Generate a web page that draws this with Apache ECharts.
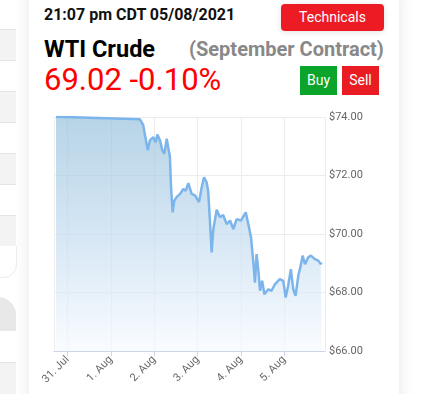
<!DOCTYPE html>
<html>
<head>
<meta charset="utf-8">
<script src="https://cdn.jsdelivr.net/npm/echarts@6/dist/echarts.min.js"></script>
<style>
  html, body { margin: 0; padding: 0; width: 432px; height: 394px; overflow: hidden; background: #fff; font-family: Roboto, "Noto Sans", sans-serif; }
  .side { position: absolute; left: 0; width: 16px; background: #f3f3f3; border-top: 1px solid #e6e6e6; border-bottom: 1px solid #e6e6e6; box-sizing: border-box; }
  .card { position: absolute; left: 29px; top: -12px; width: 370px; height: 420px; background: #fff; box-shadow: 0 0 16px rgba(0,0,0,0.10); }
  .t { position: absolute; white-space: nowrap; }
  .btn { position: absolute; color: #fff; text-align: center; font-size: 14px; }
  #chart { position: absolute; left: 0; top: 0; width: 432px; height: 394px; }
</style>
</head>
<body>
<div class="side" style="top:29px;height:32px"></div>
<div class="side" style="top:91px;height:32px"></div>
<div class="side" style="top:153px;height:32px"></div>
<div class="side" style="top:215px;height:32px"></div>
<div style="position:absolute;left:-40px;top:246px;width:56px;height:31px;border-radius:0 0 14px 0;border-right:1px solid #eee;border-bottom:1px solid #eee;background:#fff;"></div>
<div style="position:absolute;left:-40px;top:297px;width:56px;height:34px;border-radius:0 18px 0 0;background:#e8e8e8;"></div>
<div class="side" style="top:362px;height:40px"></div>
<div class="card"></div>
<div class="t" style="left:44px;top:5px;font-size:16px;font-weight:bold;color:#111;">21:07 pm CDT 05/08/2021</div>
<div class="btn" style="left:281px;top:4px;width:103px;height:27px;line-height:27px;background:#ed1c24;border-radius:4px;box-shadow:0 1px 6px rgba(0,0,0,0.12);">Technicals</div>
<div class="t" style="left:44px;top:35px;font-size:23.5px;font-weight:bold;color:#000;">WTI Crude</div>
<div class="t" style="left:189px;top:37px;font-size:20px;font-weight:bold;color:#888;">(September Contract)</div>
<div class="t" style="left:44px;top:61px;font-size:31px;color:#ff0000;">69.02 -0.10%</div>
<div class="btn" style="left:300px;top:66px;width:37px;height:29px;line-height:29px;background:#0aa52a;">Buy</div>
<div class="btn" style="left:342px;top:66px;width:37px;height:29px;line-height:29px;background:#e91c24;">Sell</div>
<div id="chart"></div>
<script>
// Data
const times = [
  '2021-07-30 17:36', '2021-08-01 16:06', '2021-08-01 17:00', '2021-08-01 17:54', '2021-08-01 20:24',
  '2021-08-01 21:36', '2021-08-01 23:30', '2021-08-02 00:48', '2021-08-02 01:42', '2021-08-02 03:12',
  '2021-08-02 04:30', '2021-08-02 05:36', '2021-08-02 06:54', '2021-08-02 07:48', '2021-08-02 08:42',
  '2021-08-02 09:18', '2021-08-02 10:12', '2021-08-02 11:06', '2021-08-02 12:24', '2021-08-02 14:18',
  '2021-08-02 16:06', '2021-08-02 17:24', '2021-08-02 18:54', '2021-08-02 20:42', '2021-08-02 22:36',
  '2021-08-03 00:48', '2021-08-03 02:18', '2021-08-03 03:36', '2021-08-03 05:00', '2021-08-03 05:54',
  '2021-08-03 06:54', '2021-08-03 07:48', '2021-08-03 08:42', '2021-08-03 10:36', '2021-08-03 12:24',
  '2021-08-03 14:12', '2021-08-03 16:06', '2021-08-03 18:00', '2021-08-03 19:48', '2021-08-03 21:42',
  '2021-08-04 00:00', '2021-08-04 02:42', '2021-08-04 04:06', '2021-08-04 05:36', '2021-08-04 06:54',
  '2021-08-04 07:48', '2021-08-04 08:42', '2021-08-04 09:36', '2021-08-04 10:36', '2021-08-04 11:48',
  '2021-08-04 13:00', '2021-08-04 15:12', '2021-08-04 17:00', '2021-08-04 18:54', '2021-08-04 21:36',
  '2021-08-04 23:30', '2021-08-05 00:48', '2021-08-05 02:12', '2021-08-05 03:42', '2021-08-05 05:00',
  '2021-08-05 06:18', '2021-08-05 07:48', '2021-08-05 09:06', '2021-08-05 10:12', '2021-08-05 11:30',
  '2021-08-05 13:18', '2021-08-05 14:48', '2021-08-05 17:00', '2021-08-05 18:54', '2021-08-05 20:12',
  '2021-08-05 20:48'
];
const prices = [
  74.01, 73.92, 73.91, 73.72, 72.86,
  73.20, 73.31, 73.14, 73.40, 73.20,
  72.86, 72.74, 73.26, 73.31, 72.63,
  71.60, 70.74, 71.14, 71.26, 71.37,
  71.54, 71.48, 71.74, 71.37, 71.32,
  71.09, 71.60, 71.94, 71.77, 71.45,
  70.40, 69.37, 70.15, 70.83, 70.57,
  70.65, 70.34, 70.46, 70.17, 70.51,
  70.46, 70.74, 70.34, 69.89, 69.03,
  68.34, 69.31, 68.80, 68.06, 68.40,
  67.94, 68.11, 68.06, 68.29, 68.46,
  68.40, 67.83, 68.23, 68.80, 68.11,
  67.89, 68.57, 68.91, 69.26, 68.97,
  69.20, 69.26, 69.14, 69.09, 68.97,
  69.02
];
const yTicks = [66, 68, 70, 72, 74];
const monthNames = ['Jan','Feb','Mar','Apr','May','Jun','Jul','Aug','Sep','Oct','Nov','Dec'];
const axisStart = '2021-07-30 16:28';
const axisEnd = '2021-08-05 22:36';

const chart = echarts.init(document.getElementById('chart'), null, { renderer: 'canvas' });
const DAY = 86400000;
chart.setOption({
  animation: false,
  backgroundColor: 'transparent',
  textStyle: { fontFamily: 'Roboto, sans-serif' },
  grid: { left: 54, right: 107, top: 117, bottom: 43, containLabel: false },
  xAxis: {
    type: 'time',
    min: echarts.time.parse(axisStart).getTime(),
    max: echarts.time.parse(axisEnd).getTime(),
    minInterval: DAY,
    maxInterval: DAY,
    axisLine: { show: true, lineStyle: { color: '#ccd6eb', width: 1 } },
    axisTick: { show: true, length: 5, lineStyle: { color: '#ccd6eb' } },
    splitLine: { show: true, lineStyle: { color: '#ececec', width: 1 } },
    axisLabel: {
      rotate: 45,
      margin: 7,
      color: '#666',
      fontSize: 11,
      formatter: function (v) {
        const d = new Date(v);
        return d.getDate() + '. ' + monthNames[d.getMonth()];
      }
    }
  },
  yAxis: {
    type: 'value',
    position: 'right',
    min: yTicks[0],
    max: yTicks[yTicks.length - 1],
    interval: 2,
    axisLine: { show: false },
    axisTick: { show: false },
    splitLine: { show: true, lineStyle: { color: '#ececec', width: 1 } },
    axisLabel: {
      margin: 4,
      color: '#666',
      fontSize: 11,
      formatter: function (v) { return '$' + v.toFixed(2); }
    }
  },
  series: [{
    type: 'line',
    data: times.map((t, i) => [t, prices[i]]),
    showSymbol: false,
    symbol: 'none',
    lineStyle: { color: '#7cb5ec', width: 2.5 },
    areaStyle: {
      origin: 'start',
      color: new echarts.graphic.LinearGradient(0, 0, 0, 1, [
        { offset: 0, color: '#97c1db' },
        { offset: 0.5, color: '#c3dbef' },
        { offset: 1, color: '#f6faff' }
      ], false)
    }
  }]
});
</script>
</body>
</html>
